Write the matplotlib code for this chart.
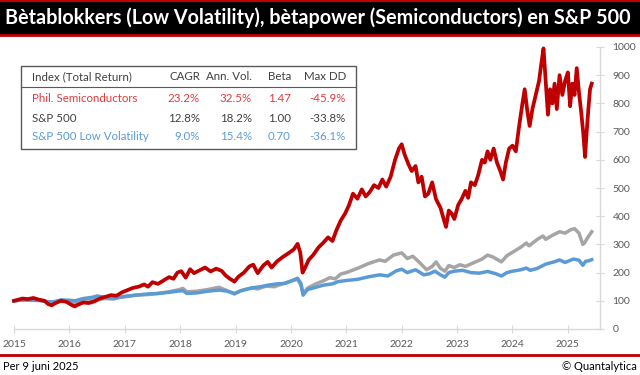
import matplotlib.pyplot as plt
from matplotlib.patches import Rectangle
from matplotlib.lines import Line2D

# --- data (index level, start 2015 = 100) ---
semi_t = [2015.00, 2015.08, 2015.15, 2015.25, 2015.35, 2015.45, 2015.55, 2015.62, 2015.68, 2015.75,
          2015.85, 2015.95, 2016.05, 2016.10, 2016.15, 2016.25, 2016.35, 2016.45, 2016.55, 2016.65,
          2016.75, 2016.85, 2016.95, 2017.05, 2017.15, 2017.25, 2017.35, 2017.42, 2017.50, 2017.60,
          2017.70, 2017.80, 2017.88, 2017.95, 2018.02, 2018.10, 2018.18, 2018.25, 2018.35, 2018.45,
          2018.55, 2018.65, 2018.75, 2018.82, 2018.90, 2018.98, 2019.05, 2019.15, 2019.25, 2019.32,
          2019.40, 2019.50, 2019.58, 2019.65, 2019.75, 2019.85, 2019.95, 2020.05, 2020.12, 2020.17,
          2020.21, 2020.25, 2020.32, 2020.40, 2020.50, 2020.58, 2020.67, 2020.75, 2020.82, 2020.90,
          2020.98, 2021.05, 2021.12, 2021.20, 2021.28, 2021.35, 2021.42, 2021.50, 2021.58, 2021.65,
          2021.72, 2021.80, 2021.88, 2021.95, 2022.00, 2022.05, 2022.12, 2022.18, 2022.25, 2022.30,
          2022.36, 2022.42, 2022.48, 2022.55, 2022.62, 2022.70, 2022.75, 2022.80, 2022.85, 2022.90,
          2022.95, 2023.02, 2023.08, 2023.15, 2023.20, 2023.25, 2023.32, 2023.38, 2023.45, 2023.50,
          2023.55, 2023.60, 2023.66, 2023.72, 2023.78, 2023.83, 2023.88, 2023.94, 2024.00, 2024.06,
          2024.12, 2024.18, 2024.22, 2024.27, 2024.31, 2024.36, 2024.42, 2024.48, 2024.52, 2024.56,
          2024.60, 2024.64, 2024.68, 2024.72, 2024.76, 2024.80, 2024.85, 2024.90, 2024.95, 2025.00,
          2025.04, 2025.08, 2025.12, 2025.16, 2025.20, 2025.24, 2025.28, 2025.31, 2025.34, 2025.37,
          2025.40, 2025.43]
semi_v = [100, 104, 108, 106, 110, 104, 100, 88, 84, 92,
          100, 96, 84, 80, 86, 94, 92, 98, 108, 114,
          120, 118, 130, 138, 146, 150, 158, 150, 166, 160,
          172, 184, 178, 200, 205, 182, 212, 198, 208, 218,
          204, 214, 206, 190, 178, 168, 185, 200, 222, 228,
          198, 225, 238, 218, 240, 255, 268, 282, 302, 270,
          200, 215, 245, 262, 290, 305, 325, 312, 350, 385,
          410, 440, 480, 462, 495, 470, 485, 510, 500, 530,
          505, 540, 600, 640, 655, 620, 585, 560, 578, 520,
          540, 470, 480, 520, 460, 430, 395, 362, 420, 410,
          390, 440, 460, 490, 465, 520, 510, 545, 600, 590,
          630, 600, 640, 590, 560, 530, 590, 640, 650, 630,
          720, 800, 850, 770, 720, 780, 830, 880, 940, 995,
          880, 760, 850, 800, 870, 780, 900, 830, 880, 910,
          790, 870, 830, 925, 840, 770, 690, 610, 700, 780,
          850, 870]

spx_t = [2015.00, 2015.15, 2015.30, 2015.45, 2015.60, 2015.70, 2015.85, 2016.00, 2016.10, 2016.20,
         2016.35, 2016.50, 2016.65, 2016.80, 2016.90, 2017.00, 2017.20, 2017.40, 2017.60, 2017.80,
         2017.95, 2018.05, 2018.12, 2018.30, 2018.50, 2018.70, 2018.85, 2018.98, 2019.10, 2019.30,
         2019.40, 2019.55, 2019.70, 2019.85, 2020.00, 2020.12, 2020.18, 2020.22, 2020.30, 2020.45,
         2020.60, 2020.70, 2020.80, 2020.90, 2021.00, 2021.20, 2021.40, 2021.60, 2021.70, 2021.85,
         2022.00, 2022.10, 2022.20, 2022.30, 2022.45, 2022.55, 2022.62, 2022.70, 2022.78, 2022.85,
         2022.95, 2023.05, 2023.15, 2023.30, 2023.45, 2023.55, 2023.65, 2023.80, 2023.90, 2024.00,
         2024.15, 2024.25, 2024.30, 2024.45, 2024.55, 2024.60, 2024.70, 2024.85, 2024.95, 2025.05,
         2025.12, 2025.20, 2025.27, 2025.30, 2025.36, 2025.43]
spx_v = [100, 103, 104, 104, 96, 94, 102, 98, 90, 96,
         102, 104, 108, 106, 112, 114, 120, 122, 126, 132,
         138, 144, 132, 134, 140, 148, 136, 124, 136, 146,
         142, 152, 150, 160, 170, 176, 155, 125, 145, 160,
         172, 182, 178, 195, 200, 215, 232, 245, 240, 262,
         270, 250, 258, 240, 210, 222, 238, 215, 205, 225,
         218, 228, 222, 235, 248, 262, 255, 238, 260, 272,
         290, 305, 295, 318, 330, 318, 330, 345, 340, 352,
         356, 340, 300, 305, 325, 345]

lowvol_t = [2015.00, 2015.15, 2015.30, 2015.45, 2015.60, 2015.70, 2015.85, 2016.00, 2016.10, 2016.25,
            2016.40, 2016.50, 2016.60, 2016.75, 2016.90, 2017.00, 2017.20, 2017.40, 2017.60, 2017.80,
            2017.95, 2018.05, 2018.12, 2018.30, 2018.50, 2018.70, 2018.85, 2018.98, 2019.10, 2019.30,
            2019.45, 2019.60, 2019.75, 2019.90, 2020.00, 2020.12, 2020.18, 2020.22, 2020.30, 2020.45,
            2020.60, 2020.75, 2020.85, 2021.00, 2021.20, 2021.40, 2021.60, 2021.75, 2021.90, 2022.00,
            2022.10, 2022.25, 2022.40, 2022.50, 2022.60, 2022.70, 2022.78, 2022.85, 2022.95, 2023.10,
            2023.25, 2023.40, 2023.55, 2023.70, 2023.80, 2023.90, 2024.00, 2024.15, 2024.25, 2024.32,
            2024.45, 2024.60, 2024.75, 2024.85, 2024.95, 2025.10, 2025.20, 2025.27, 2025.32, 2025.38,
            2025.43]
lowvol_v = [100, 103, 102, 101, 97, 96, 103, 102, 100, 108,
            112, 117, 114, 110, 112, 116, 120, 124, 126, 130,
            134, 136, 126, 128, 134, 138, 134, 126, 136, 146,
            150, 156, 160, 162, 170, 180, 162, 120, 140, 148,
            156, 160, 168, 172, 176, 185, 192, 188, 206, 212,
            200, 210, 192, 196, 205, 192, 184, 200, 205, 208,
            200, 198, 204, 196, 188, 200, 205, 210, 216, 208,
            215, 230, 238, 245, 236, 248, 244, 226, 240, 242,
            246]

years = list(range(2015, 2026))

table_header = ['Index (Total Return)', 'CAGR', 'Ann. Vol.', 'Beta', 'Max DD']
table_names = ['Phil. Semiconductors', 'S&P 500', 'S&P 500 Low Volatility']
table_cagr = ['23.2%', '12.8%', '9.0%']
table_vol = ['32.5%', '18.2%', '15.4%']
table_beta = ['1.47', '1.00', '0.70']
table_dd = ['-45.9%', '-33.8%', '-36.1%']

RED = '#C00000'
GRAY = '#A5A5A5'
BLUE = '#5B9BD5'
TXT = '#595959'
row_colors = ['#E03C3C', '#404040', '#5B9BD5']

plt.rcParams['font.family'] = ['Lato', 'DejaVu Sans']

W, H = 640, 375
fig = plt.figure(figsize=(6.4, 3.75), dpi=100)


def fx(px):
    return px / W


def fy(py):
    return 1 - py / H


# title bar
fig.patches.append(Rectangle((0, fy(35)), 1, (35 - 1) / H, transform=fig.transFigure,
                             facecolor='black', edgecolor='none', zorder=0))
fig.add_artist(Line2D([0, 1], [fy(1), fy(1)], color=RED, lw=1.5))
fig.add_artist(Line2D([0, 1], [fy(35), fy(35)], color=RED, lw=2))
fig.text(fx(5), fy(18), 'Bètablokkers (Low Volatility), bètapower (Semiconductors) en S&P 500',
         color='white', fontsize=14.2, fontweight='bold', va='center', ha='left')

# footer
fig.add_artist(Line2D([0, 1], [fy(355), fy(355)], color=RED, lw=2))
fig.text(fx(3), fy(366), 'Per 9 juni 2025', fontsize=8, color='black', va='center', ha='left')
fig.text(fx(637), fy(366), '© Quantalytica', fontsize=8, color='black', va='center', ha='right')

# main axes
ax = fig.add_axes([fx(14), fy(329), fx(600) - fx(14), (329 - 47) / H])
ax.plot(spx_t, spx_v, color=GRAY, lw=2.5, clip_on=False)
ax.plot(lowvol_t, lowvol_v, color=BLUE, lw=2.5, clip_on=False)
ax.plot(semi_t, semi_v, color=RED, lw=2.7, clip_on=False)

ax.set_xlim(2015, 2025.58)
ax.set_ylim(0, 1000)
ax.set_xticks(years)
ax.set_xticklabels([str(y) for y in years])
ax.set_yticks(range(0, 1001, 100))
ax.yaxis.tick_right()
for s in ['top', 'left']:
    ax.spines[s].set_visible(False)
for s in ['bottom', 'right']:
    ax.spines[s].set_color('#D9D9D9')
    ax.spines[s].set_linewidth(1)
ax.tick_params(axis='x', direction='inout', length=6, color='#D9D9D9', labelsize=7.5,
               labelcolor=TXT, pad=5)
ax.tick_params(axis='y', direction='inout', length=6, color='#D9D9D9', labelsize=7.5,
               labelcolor=TXT, pad=6)
ax.set_facecolor('none')

# statistics table
fig.patches.append(Rectangle((fx(21), fy(149)), fx(356) - fx(21), (149 - 66) / H,
                             transform=fig.transFigure, facecolor='white',
                             edgecolor='#595959', lw=1, zorder=3))
fig.add_artist(Line2D([fx(21), fx(356)], [fy(87), fy(87)], color='#595959', lw=0.8, zorder=4))
col_x = [32, 200, 252, 291, 346]
fs = 8.3
fig.text(fx(col_x[0]), fy(77), table_header[0], fontsize=fs, color='#404040', va='center', ha='left', zorder=5)
for i in range(1, 5):
    fig.text(fx(col_x[i]), fy(77), table_header[i], fontsize=fs, color='#404040', va='center',
             ha='right', zorder=5)
row_y = [99, 118, 137]
for r in range(3):
    c = row_colors[r]
    fig.text(fx(col_x[0]), fy(row_y[r]), table_names[r], fontsize=fs, color=c, va='center', ha='left', zorder=5)
    vals = [table_cagr[r], table_vol[r], table_beta[r], table_dd[r]]
    for i in range(4):
        fig.text(fx(col_x[i + 1]), fy(row_y[r]), vals[i], fontsize=fs, color=c, va='center',
                 ha='right', zorder=5)

fig.savefig('out.png', dpi=100)
